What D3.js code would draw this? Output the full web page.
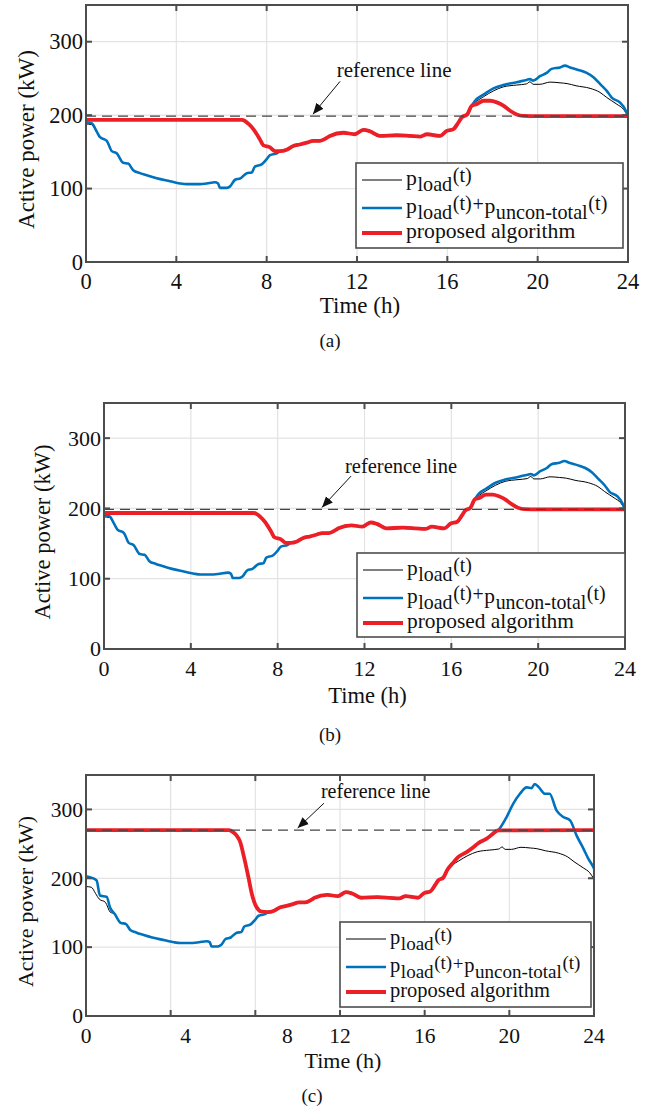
<!DOCTYPE html>
<html>
<head>
<meta charset="utf-8">
<script src="https://cdn.jsdelivr.net/npm/d3@7"></script>
<style>
  body { margin: 0; background: #fff; }
  svg { display: block; }
  svg text { font-family: "Liberation Serif", "Times New Roman", serif; }
</style>
</head>
<body>
<div id="chart"></div>
<script>
// ---- data (hours, kW) ----
const hourTicks = [0, 4, 8, 12, 16, 20, 24];
const powerTicks = [0, 100, 200, 300];
const hourDomain = [0, 24];
const powerDomain = [0, 350];

const refA = 198.6;   // reference line in (a) and (b)
const refC = 270;     // reference line in (c)

// load, first hour (differs slightly from the other curves)
const loadStart = [[0,188],[0.25,187],[0.45,178],[0.62,170],[0.92,165],[1.14,151]];
// shared morning valley (load == uncontrolled)
const loadMorning = [[1.36,148],[1.65,135],[1.87,134],[2.09,125],[2.39,121],[2.69,118],[3.13,114],
  [3.72,110],[4.16,107],[4.46,106],[5.05,106],[5.34,107],[5.71,108.6],[5.85,107],[5.93,101],
  [6.23,101],[6.38,103],[6.6,112],[6.84,114],[7.12,121],[7.34,122],[7.48,130],[7.78,133],
  [8.0,140],[8.15,145.6],[8.45,148]];
// shared midday part (all three curves overlap)
const middaySegment = [[8.6,151],[8.89,153],[9.18,158],[9.47,160],[9.77,162.5],[10.06,165],
  [10.36,165],[10.66,169],[10.8,171.7],[11.4,176],[11.9,174],[12.28,180],[12.57,178],[13.0,171.7],
  [13.76,172.6],[14.35,171.7],[14.8,170.8],[15.1,174],[15.68,171.7],[15.97,178.5],[16.27,181],
  [16.49,190],[16.64,197],[16.88,201],[17.08,212.8]];
const loadEvening = [[17.3,219],[17.6,225],[18.04,233],[18.48,238.5],[19.07,241],[19.5,242.5],
  [19.66,245.5],[19.8,242],[20.1,242],[20.55,245],[20.99,244],[21.3,243],[21.7,240],[22.32,236.5],
  [22.76,231],[23.06,224],[23.5,215],[23.8,208],[24,198.6]];

// (a)/(b) uncontrolled
const unconStartA = [[0,190],[0.25,189],[0.47,178],[0.62,170],[0.92,165],[1.14,151]];
const unconEveningA = [[17.3,222],[17.6,228],[18.04,236.5],[18.48,241],[19.07,244.8],[19.51,248],
  [19.66,249],[19.8,247],[20.1,253],[20.4,257.5],[20.62,263],[20.99,265],[21.21,267.5],[21.43,265],
  [21.8,261.6],[22.17,257.5],[22.47,251.6],[22.76,242.5],[23.06,233],[23.28,224],[23.65,217],
  [23.87,208],[24,198.6]];
// (a)/(b) proposed
const proposedStartA = [[0,193.5],[6.9,193.5],[7.04,192],[7.2,188],[7.41,181],[7.7,167],
  [7.85,159],[8.15,156],[8.37,151]];
const proposedEveningA = [[17.3,215],[17.6,219.6],[17.9,219.6],[18.19,217.4],[18.48,213],
  [18.78,206],[19.07,201],[19.37,199],[20,198.6],[24,198.6]];

// (c) uncontrolled
const unconStartC = [[0,203],[0.25,201],[0.5,197],[0.66,175],[0.98,173],[1.13,158]];
const unconEveningC = [[17.3,221],[17.59,231],[17.98,238],[18.3,245],[18.53,251],[18.93,257.5],
  [19.2,264],[19.48,270],[19.87,289],[20.18,308],[20.5,322.7],[20.82,332],[21.05,331],[21.2,337],
  [21.4,332],[21.68,322.7],[21.9,322.7],[22.23,298.6],[22.55,289],[22.87,284],[23.18,262],
  [23.5,243],[23.73,228.5],[23.97,216],[24,214]];
// (c) proposed
const proposedStartC = [[0,270],[6.75,270],[6.95,267],[7.12,262],[7.27,254],[7.5,226],
  [7.67,202],[7.83,178],[8.06,158],[8.3,151.5]];
const proposedEveningC = [[17.3,221],[17.59,231],[17.98,238],[18.3,245],[18.53,251],
  [18.93,257.5],[19.2,264],[19.45,269.5],[24,270]];

const loadSeries = [...loadStart, ...loadMorning, ...middaySegment, ...loadEvening];
const unconA = [...unconStartA, ...loadMorning, ...middaySegment, ...unconEveningA];
const proposedA = [...proposedStartA, ...middaySegment, ...proposedEveningA];
const unconC = [...unconStartC, ...loadMorning, ...middaySegment, ...unconEveningC];
const proposedC = [...proposedStartC, ...middaySegment, ...proposedEveningC];

// ---- layout ----
const W = 660, H = 1110;
const AX = "#4d4d4d";
const BLUE = "#0072bd", RED = "#ec1f27";

const panels = [
  { tag: "(a)", left: 86, right: 628, top: 5, bottom: 262, fs: 22.5, ref: refA,
    uncon: unconA, proposed: proposedA,
    ylabX: 34, xlabY: 313, capY: 347, capX: 330,
    ann: { textH: 11.1, textV: 252, fromH: 11.25, fromV: 246, toH: 10.05 },
    legend: { x: 356, y: 163, w: 267, h: 85, fs: 21.7 }, labelShift: {} },
  { tag: "(b)", left: 104, right: 625, top: 403, bottom: 649, fs: 22, ref: refA,
    uncon: unconA, proposed: proposedA,
    ylabX: 50, xlabY: 703, capY: 741, capX: 330,
    ann: { textH: 11.1, textV: 251, fromH: 11.38, fromV: 246, toH: 10.04 },
    legend: { x: 357, y: 553, w: 268, h: 84, fs: 21.4 }, labelShift: {} },
  { tag: "(c)", left: 86, right: 594, top: 775, bottom: 1016, fs: 21.5, ref: refC,
    uncon: unconC, proposed: proposedC,
    ylabX: 33, xlabY: 1068, capY: 1102, capX: 312,
    ann: { textH: 11.1, textV: 317, fromH: 11.24, fromV: 309, toH: 10.0 },
    legend: { x: 340, y: 922, w: 251, h: 85, fs: 20.5 }, labelShift: { 4: 15, 8: 32 } }
];

const svg = d3.select("#chart").append("svg").attr("width", W).attr("height", H);
const defs = svg.append("defs");
defs.append("marker").attr("id", "arrow")
  .attr("viewBox", "0 0 10 10").attr("refX", 10).attr("refY", 5)
  .attr("markerWidth", 11).attr("markerHeight", 11).attr("markerUnits", "userSpaceOnUse")
  .attr("orient", "auto")
  .append("path").attr("d", "M0,0.8 L10,5 L0,9.2 Z").attr("fill", "#111");

panels.forEach((p, i) => {
  const x = d3.scaleLinear().domain(hourDomain).range([p.left, p.right]);
  const y = d3.scaleLinear().domain(powerDomain).range([p.bottom, p.top]);
  const g = svg.append("g");

  defs.append("clipPath").attr("id", "clip" + i)
    .append("rect").attr("x", p.left).attr("y", p.top)
    .attr("width", p.right - p.left).attr("height", p.bottom - p.top);

  // grid
  g.append("g").selectAll("line").data(hourTicks.slice(1, -1)).join("line")
    .attr("x1", d => x(d)).attr("x2", d => x(d)).attr("y1", p.top).attr("y2", p.bottom)
    .attr("stroke", "#e3e3e3").attr("stroke-width", 1.2);
  g.append("g").selectAll("line").data(powerTicks.slice(1)).join("line")
    .attr("y1", d => y(d)).attr("y2", d => y(d)).attr("x1", p.left).attr("x2", p.right)
    .attr("stroke", "#e3e3e3").attr("stroke-width", 1.2);

  const line = d3.line().x(d => x(d[0])).y(d => y(d[1])).curve(d3.curveMonotoneX);
  const plot = g.append("g").attr("clip-path", `url(#clip${i})`);
  plot.append("path").attr("d", line(loadSeries)).attr("fill", "none")
    .attr("stroke", "#000").attr("stroke-width", 1);
  plot.append("path").attr("d", line(p.uncon)).attr("fill", "none")
    .attr("stroke", BLUE).attr("stroke-width", 2.6).attr("stroke-linejoin", "round");
  plot.append("path").attr("d", line(p.proposed)).attr("fill", "none")
    .attr("stroke", RED).attr("stroke-width", 3.8).attr("stroke-linejoin", "round");
  plot.append("line").attr("x1", x(0)).attr("x2", x(24))
    .attr("y1", y(p.ref)).attr("y2", y(p.ref))
    .attr("stroke", "#444").attr("stroke-width", 1.1).attr("stroke-dasharray", "10,6");

  // axes box + inward ticks on all sides
  g.append("rect").attr("x", p.left).attr("y", p.top)
    .attr("width", p.right - p.left).attr("height", p.bottom - p.top)
    .attr("fill", "none").attr("stroke", AX).attr("stroke-width", 2);
  const tl = 6;
  hourTicks.forEach(h => {
    g.append("line").attr("x1", x(h)).attr("x2", x(h)).attr("y1", p.bottom).attr("y2", p.bottom - tl)
      .attr("stroke", AX).attr("stroke-width", 2);
    g.append("line").attr("x1", x(h)).attr("x2", x(h)).attr("y1", p.top).attr("y2", p.top + tl)
      .attr("stroke", AX).attr("stroke-width", 2);
  });
  powerTicks.forEach(v => {
    g.append("line").attr("x1", p.left).attr("x2", p.left + tl).attr("y1", y(v)).attr("y2", y(v))
      .attr("stroke", AX).attr("stroke-width", 2);
    g.append("line").attr("x1", p.right).attr("x2", p.right - tl).attr("y1", y(v)).attr("y2", y(v))
      .attr("stroke", AX).attr("stroke-width", 2);
  });

  // tick labels
  g.append("g").selectAll("text").data(hourTicks).join("text")
    .attr("x", d => x(d) + (p.labelShift[d] || 0)).attr("y", p.bottom + 27)
    .attr("text-anchor", "middle").attr("font-size", p.fs).attr("fill", "#111")
    .text(d => d);
  g.append("g").selectAll("text").data(powerTicks).join("text")
    .attr("x", p.left - 3).attr("y", d => y(d)).attr("dy", "0.34em")
    .attr("text-anchor", "end").attr("font-size", p.fs).attr("fill", "#111")
    .text(d => d);

  // axis titles and caption
  g.append("text").attr("transform", `translate(${p.ylabX},${(p.top + p.bottom) / 2 + 6}) rotate(-90)`)
    .attr("text-anchor", "middle").attr("font-size", p.fs + 0.5).attr("fill", "#111")
    .text("Active power (kW)");
  g.append("text").attr("x", (p.left + p.right) / 2 + 3).attr("y", p.xlabY)
    .attr("text-anchor", "middle").attr("font-size", p.fs + 0.5).attr("fill", "#111")
    .text("Time (h)");
  g.append("text").attr("x", p.capX).attr("y", p.capY)
    .attr("text-anchor", "middle").attr("font-size", 19).attr("fill", "#111")
    .text(p.tag);

  // reference line annotation
  g.append("text").attr("x", x(p.ann.textH)).attr("y", y(p.ann.textV))
    .attr("font-size", p.fs - 1.5).attr("fill", "#111").text("reference line");
  g.append("line").attr("x1", x(p.ann.fromH)).attr("y1", y(p.ann.fromV))
    .attr("x2", x(p.ann.toH)).attr("y2", y(p.ref) - 2)
    .attr("stroke", "#111").attr("stroke-width", 1).attr("marker-end", "url(#arrow)");

  // legend
  const L = p.legend;
  const lg = g.append("g").attr("transform", `translate(${L.x},${L.y})`);
  lg.append("rect").attr("width", L.w).attr("height", L.h)
    .attr("fill", "#fff").attr("stroke", AX).attr("stroke-width", 1.6);
  const rows = [
    { y: 17, color: "#000", sw: 1, parts: [["p", 0], ["load", 1], ["(t)", 2]] },
    { y: 45, color: BLUE, sw: 2.6, parts: [["p", 0], ["load", 1], ["(t)", 2], ["+", 3], ["p", 0], ["uncon-total", 1], ["(t)", 2]] },
    { y: 70, color: RED, sw: 3.8, parts: [["proposed algorithm", 0]] }
  ];
  rows.forEach(r => {
    lg.append("line").attr("x1", 6).attr("x2", 46).attr("y1", r.y).attr("y2", r.y)
      .attr("stroke", r.color).attr("stroke-width", r.sw);
    const t = lg.append("text").attr("x", 50).attr("y", r.y + 5)
      .attr("font-size", L.fs).attr("fill", "#111");
    let level = 0;
    r.parts.forEach(([s, kind], k) => {
      // 0 normal, 1 subscript, 2 superscript, 3 raised plus sign
      const target = kind === 1 ? 6 : kind === 2 ? -3 : kind === 3 ? -2 : 0;
      t.append("tspan").attr("dy", target - level).attr("dx", k > 0 ? 0.6 : 0)
        .attr("font-size", kind === 0 ? L.fs : L.fs * 0.93).text(s);
      level = target;
    });
  });
});
</script>
</body>
</html>
